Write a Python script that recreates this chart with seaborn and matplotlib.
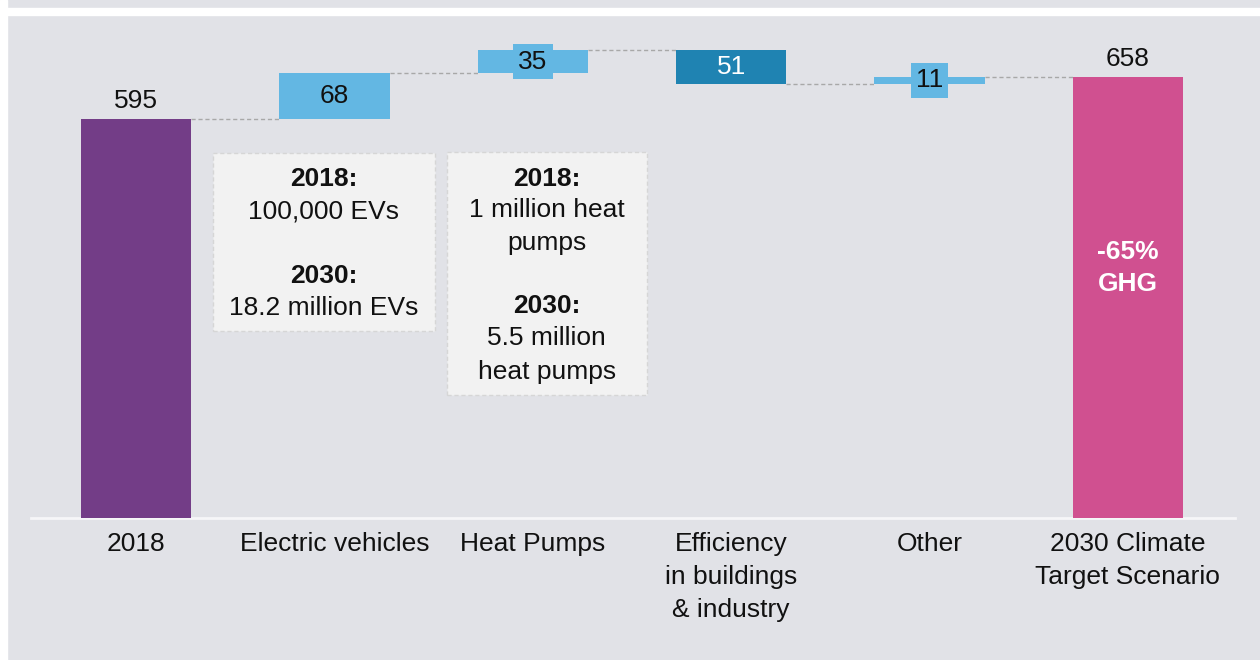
import numpy as np
import pandas as pd
import matplotlib.pyplot as plt
import matplotlib.patches as mpatches
import seaborn as sns

# --- Data ---
categories = ["2018", "Electric vehicles", "Heat Pumps",
              "Efficiency\nin buildings\n& industry", "Other",
              "2030 Climate\nTarget Scenario"]
changes = [595, 68, 35, -51, 11, 658]
kinds = ["total", "delta", "delta", "delta", "delta", "total"]
value_labels = ["595", "68", "35", "51", "11", "658"]
bar_colors = ["#733d87", "#63b7e3", "#63b7e3", "#1f83b2", "#63b7e3", "#d05090"]
label_colors = ["#111111", "#111111", "#111111", "white", "#111111", "#111111"]

ev_note_head = ["2018:", "2030:"]
ev_note_body = ["100,000 EVs", "18.2 million EVs"]
hp_note_head = ["2018:", "2030:"]
hp_note_body = ["1 million heat\npumps", "5.5 million\nheat pumps"]
target_note = "-65%\nGHG"

# --- Style ---
BG = "#e1e2e7"
INK = "#111111"
sns.set_theme(style="white")
plt.rcParams["font.family"] = ["Liberation Sans", "DejaVu Sans"]

# waterfall geometry
bottoms, heights, levels = [], [], []
level = 0
for c, k in zip(changes, kinds):
    if k == "total":
        bottoms.append(0)
        heights.append(c)
        level = c
    else:
        new = level + c
        bottoms.append(min(level, new))
        heights.append(abs(c))
        level = new
    levels.append(level)

df = pd.DataFrame({"category": categories, "height": heights})

fig = plt.figure(figsize=(12.6, 6.6), dpi=100, facecolor=BG)
# white frame strips of the original screenshot
fig.patches.append(mpatches.Rectangle((0, 0), 7 / 1260, 1, transform=fig.transFigure,
                                      color="white", zorder=0))
fig.patches.append(mpatches.Rectangle((0, 645 / 660), 1, 7 / 660, transform=fig.transFigure,
                                      color="white", zorder=0))

ax = fig.add_axes([31 / 1260, 142 / 660, 1204 / 1260, 496.2 / 660])
ax.set_facecolor("none")

W = 0.555
sns.barplot(data=df, x="category", y="height", hue="category", palette=bar_colors,
            legend=False, width=W, saturation=1, linewidth=0, ax=ax, zorder=3)
for patch, b in zip(ax.patches, bottoms):
    patch.set_y(b)

ax.set_xlim(-0.53, 5.54)
ax.set_ylim(0, 740)

# connectors
for i in range(len(categories) - 1):
    ax.plot([i + W / 2, i + 1 - W / 2], [levels[i], levels[i]], color="#a8a8a8",
            lw=1, dashes=(3, 2), zorder=2)

# value labels
for i, (k, lab) in enumerate(zip(kinds, value_labels)):
    if k == "total":
        ax.annotate(lab, (i, bottoms[i] + heights[i]), xytext=(0, 4),
                    textcoords="offset points", ha="center", va="bottom",
                    fontsize=19, color=INK)
    else:
        ax.text(i, bottoms[i] + heights[i] / 2, lab, ha="center", va="center",
                fontsize=19, color=label_colors[i], zorder=5,
                bbox=dict(boxstyle="square,pad=0.2", fc=bar_colors[i], ec="none"))

ax.text(5, 373, target_note, ha="center", va="center", fontsize=19,
        fontweight="bold", color="white", linespacing=1.45, zorder=5)

# note boxes
for x0, x1, y0, y1 in [(0.388, 1.507, 279, 544), (1.568, 2.576, 183, 546)]:
    ax.add_patch(mpatches.Rectangle((x0, y0), x1 - x0, y1 - y0, fc="#f2f2f2",
                                    ec="#d6d6d6", lw=1, ls=(0, (3, 2)), zorder=1))

for txt, y, bold in [(ev_note_head[0], 506, True), (ev_note_body[0], 457, False),
                     (ev_note_head[1], 361, True), (ev_note_body[1], 313, False)]:
    ax.text(0.947, y, txt, ha="center", va="center", fontsize=19, color=INK,
            fontweight="bold" if bold else "normal", zorder=4)

for txt, y, bold in [(hp_note_head[0], 506, True), (hp_note_body[0], 435, False),
                     (hp_note_head[1], 316, True), (hp_note_body[1], 243, False)]:
    ax.text(2.07, y, txt, ha="center", va="center", fontsize=19, color=INK,
            fontweight="bold" if bold else "normal", linespacing=1.5, zorder=4)

# axes cosmetics
ax.set_xlabel("")
ax.set_ylabel("")
ax.set_yticks([])
for s in ["top", "right", "left"]:
    ax.spines[s].set_visible(False)
ax.spines["bottom"].set_color("#f6f6f8")
ax.spines["bottom"].set_linewidth(2)
ax.tick_params(axis="x", length=0, pad=10, labelsize=19, labelcolor=INK)
for t in ax.get_xticklabels():
    t.set_linespacing(1.48)
    t.set_verticalalignment("top")

fig.savefig("out.png", dpi=100, facecolor=BG)
